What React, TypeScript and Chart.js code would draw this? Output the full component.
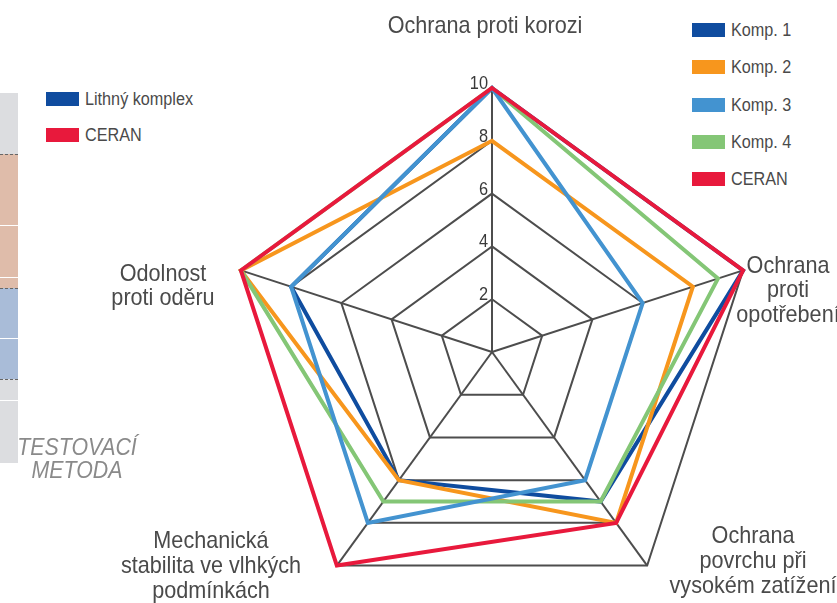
import React, { useEffect, useRef } from "react";
import { Chart, registerables } from "chart.js";

Chart.register(...registerables);

// ---- data ----
const categories: string[][] = [
  ["Ochrana proti korozi"],
  ["Ochrana", "proti", "opotřebení"],
  ["Ochrana", "povrchu při", "vysokém zatížení"],
  ["Mechanická", "stabilita ve vlhkých", "podmínkách"],
  ["Odolnost", "proti oděru"],
];
const tickValues = [2, 4, 6, 8, 10];
const seriesNames = ["Komp. 1", "Komp. 2", "Komp. 3", "Komp. 4", "CERAN"];
const komp1 = [10, 10, 7, 6, 8];
const komp2 = [8, 8, 8, 6, 10];
const komp3 = [10, 6, 6, 8, 8];
const komp4 = [10, 9, 7, 7, 10];
const ceran = [10, 10, 8, 10, 10];
const sideLegendNames = ["Lithný komplex", "CERAN"];
const methodLabel = ["TESTOVACÍ", "METODA"];

// ---- styles ----
const FONT = "'Liberation Sans', Arial, Helvetica, sans-serif";
const SX = 0.9; // condensed look
const TEXT = "#4a4a4a";
const seriesColors = ["#0f4c9f", "#f7961d", "#4393d0", "#84c676", "#e8193c"];
const seriesOrder = [4, 3, 1, 2, 0];
const sideLegendColors = ["#0f4c9f", "#e8193c"];

// label anchor positions (center x, baselines y)
const labelPos = [
  { x: 485, y: [33] },
  { x: 788, y: [273, 297, 322] },
  { x: 753, y: [543, 568, 593] },
  { x: 211, y: [548, 573, 598] },
  { x: 163, y: [281, 305] },
];

function drawText(
  ctx: CanvasRenderingContext2D,
  text: string,
  x: number,
  y: number,
  align: CanvasTextAlign,
  sx: number
) {
  ctx.save();
  ctx.translate(x, y);
  ctx.scale(sx, 1);
  ctx.textAlign = align;
  ctx.textBaseline = "alphabetic";
  ctx.fillText(text, 0, 0);
  ctx.restore();
}

const textPlugin = {
  id: "radarText",
  beforeDatasetsDraw(chart: any) {
    const s = chart.scales.r;
    const ctx = chart.ctx as CanvasRenderingContext2D;
    ctx.save();
    ctx.font = `19px ${FONT}`;
    ctx.fillStyle = "#3a3a3a";
    tickValues.forEach((v) => {
      const d = s.getDistanceFromCenterForValue(v);
      drawText(ctx, String(v), s.xCenter - 4, s.yCenter - d + 1, "right", 0.86);
    });
    ctx.restore();
  },
  afterDraw(chart: any) {
    const ctx = chart.ctx as CanvasRenderingContext2D;
    ctx.save();
    ctx.font = `24px ${FONT}`;
    ctx.fillStyle = TEXT;
    categories.forEach((lines, i) => {
      const p = labelPos[i];
      lines.forEach((ln, j) => drawText(ctx, ln, p.x, p.y[j], "center", SX));
    });
    ctx.font = `italic 24px ${FONT}`;
    ctx.fillStyle = "#8a8a8a";
    drawText(ctx, methodLabel[0], 77, 455, "center", 0.89);
    drawText(ctx, methodLabel[1], 77, 478, "center", 0.89);
    ctx.restore();
  },
};

function LegendRow({ color, text, left, top }: { color: string; text: string; left: number; top: number }) {
  return (
    <div style={{ position: "absolute", left, top, height: 14, width: 200 }}>
      <div style={{ position: "absolute", left: 0, top: 0, width: 33, height: 14, background: color }} />
      <div
        style={{
          position: "absolute",
          left: 39,
          top: -2,
          font: `18px ${FONT}`,
          color: TEXT,
          whiteSpace: "nowrap",
          lineHeight: "18px",
          transform: `scaleX(${SX})`,
          transformOrigin: "0 0",
        }}
      >
        {text}
      </div>
    </div>
  );
}

export default function App() {
  const ref = useRef<HTMLCanvasElement>(null);

  useEffect(() => {
    const all = [komp1, komp2, komp3, komp4, ceran];
    const chart = new Chart(ref.current!, {
      type: "radar",
      data: {
        labels: categories.map((c) => c.join(" ")),
        datasets: all.map((d, i) => ({
          label: seriesNames[i],
          data: d,
          borderColor: seriesColors[i],
          backgroundColor: "transparent",
          borderWidth: 4,
          fill: false,
          pointRadius: 0,
          pointHoverRadius: 0,
          borderJoinStyle: "miter",
          order: seriesOrder[i],
        })),
      },
      options: {
        responsive: false,
        animation: false,
        devicePixelRatio: 1,
        layout: { padding: { left: 228, right: 81, top: 88, bottom: 24 } },
        plugins: { legend: { display: false }, tooltip: { enabled: false } },
        scales: {
          r: {
            min: 0,
            max: 10,
            beginAtZero: true,
            ticks: { stepSize: 2, display: false },
            pointLabels: { display: false },
            grid: { color: "#4d4d4d", lineWidth: 2 },
            angleLines: { color: "#4d4d4d", lineWidth: 2 },
          },
        },
      } as any,
      plugins: [textPlugin],
    });
    return () => chart.destroy();
  }, []);

  const band = (top: number, height: number, color: string) => (
    <div style={{ position: "absolute", left: 0, top, width: 18, height, background: color }} />
  );
  const hline = (top: number, style: string) => (
    <div style={{ position: "absolute", left: 0, top, width: 18, height: 0, borderTop: style }} />
  );

  return (
    <div
      style={{
        position: "absolute",
        left: 0,
        top: 0,
        width: 837,
        height: 603,
        overflow: "hidden",
        background: "#ffffff",
      }}
    >
      {band(93, 61, "#dcdde0")}
      {band(154, 134, "#dfbcaa")}
      {band(288, 91, "#a9bcd8")}
      {band(379, 84, "#dcdde0")}
      {hline(225, "1px solid #ffffff")}
      {hline(277, "1px solid #ffffff")}
      {hline(338, "1px solid #ffffff")}
      {hline(400, "1px solid #ffffff")}
      {hline(154, "1px dashed #666666")}
      {hline(288, "1px dashed #666666")}
      {hline(379, "1px dashed #666666")}

      {sideLegendNames.map((n, i) => (
        <LegendRow key={n} color={sideLegendColors[i]} text={n} left={46} top={92 + i * 36} />
      ))}
      {seriesNames.map((n, i) => (
        <LegendRow key={n} color={seriesColors[i]} text={n} left={692} top={23 + i * 37.3} />
      ))}

      <canvas
        ref={ref}
        width={837}
        height={640}
        style={{ position: "absolute", left: 0, top: 0, width: 837, height: 640 }}
      />
    </div>
  );
}
